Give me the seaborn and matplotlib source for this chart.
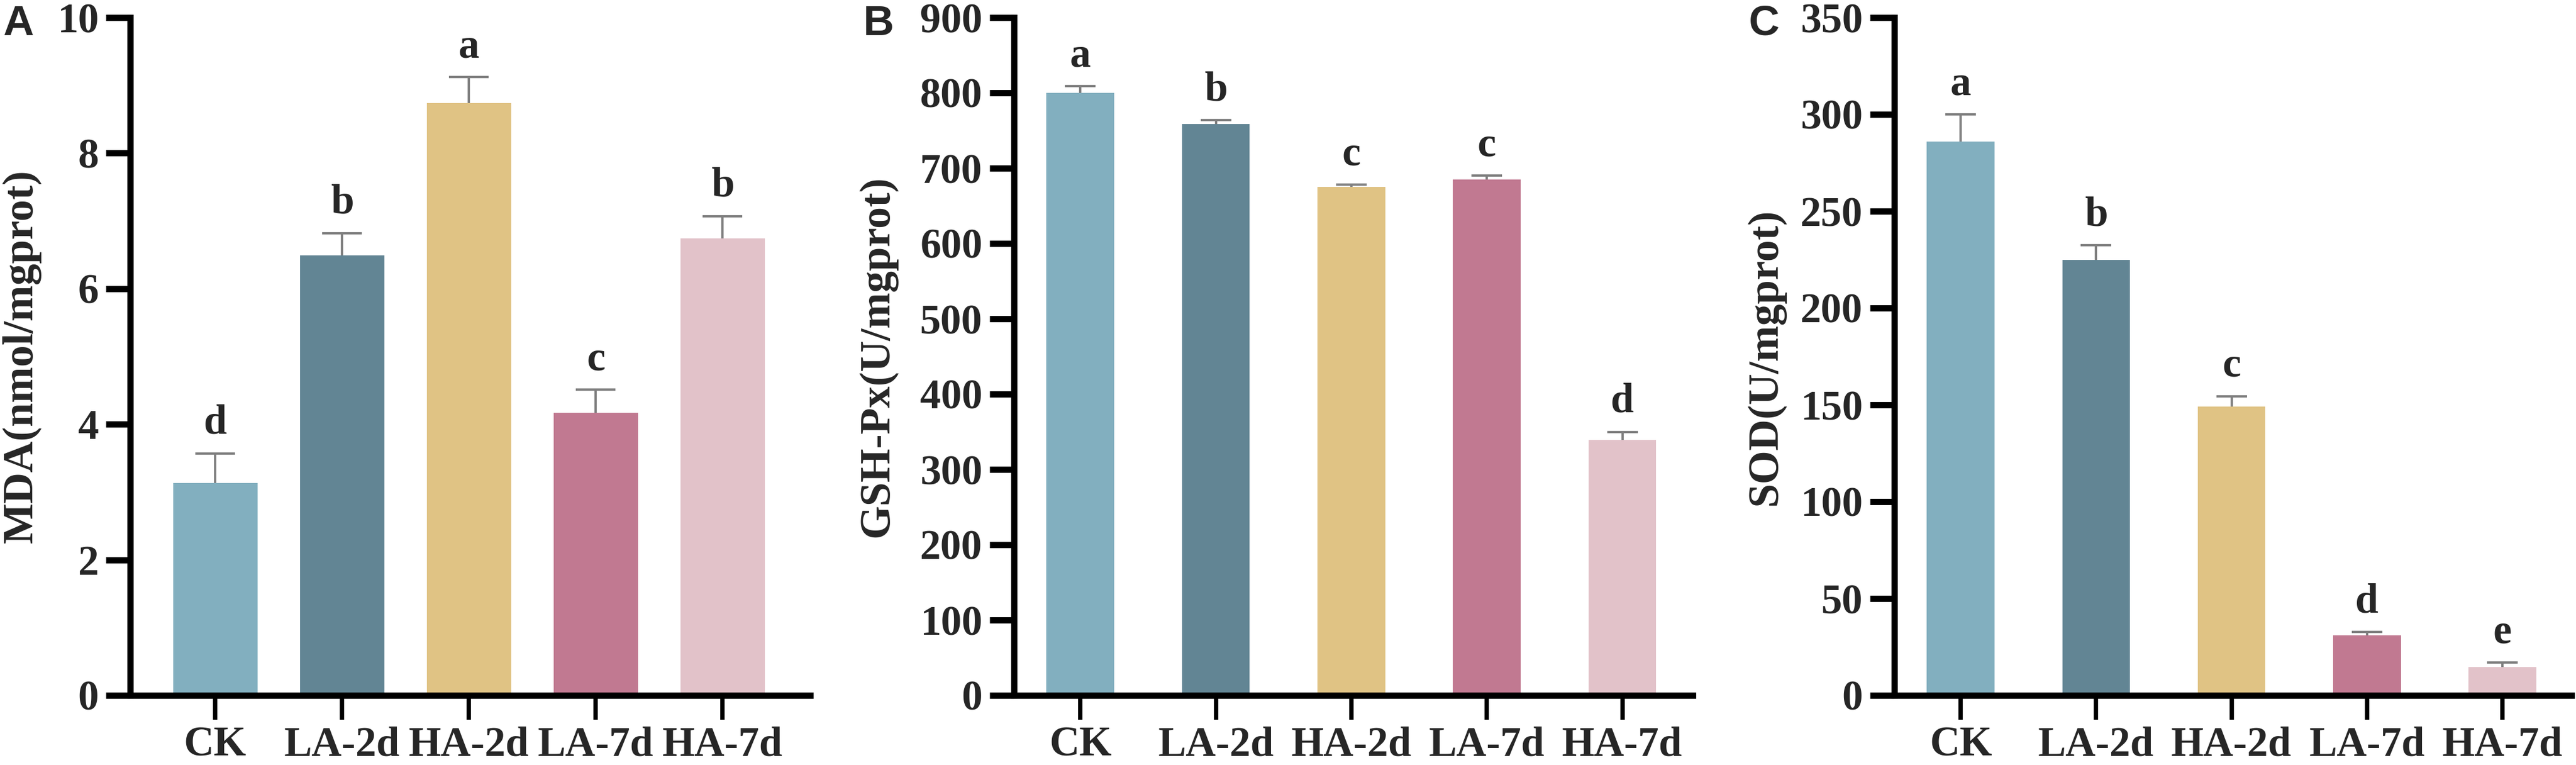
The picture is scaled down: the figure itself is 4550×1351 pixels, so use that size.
import numpy as np
import pandas as pd
import matplotlib
matplotlib.use('Agg')
import matplotlib.pyplot as plt
import seaborn as sns

# groups and colours
groups = ['CK', 'LA-2d', 'HA-2d', 'LA-7d', 'HA-7d']
colors = ['#82AFBF', '#628594', '#E0C384', '#C17991', '#E2C2C9']

# panel A - MDA
mda_mean = [3.13, 6.49, 8.74, 4.17, 6.74]
mda_err = [0.44, 0.33, 0.38, 0.34, 0.33]
mda_sig = ['d', 'b', 'a', 'c', 'b']

# panel B - GSH-Px
gsh_mean = [800, 759, 675, 685, 339]
gsh_err = [9, 5, 3, 5, 11]
gsh_sig = ['a', 'b', 'c', 'c', 'd']

# panel C - SOD
sod_mean = [286, 225, 149, 31, 14.6]
sod_err = [14, 7.5, 5.5, 1.8, 2.3]
sod_sig = ['a', 'b', 'c', 'd', 'e']

sns.set_style('ticks')
plt.rcParams['font.family'] = ['Liberation Serif', 'DejaVu Serif']
plt.rcParams['font.weight'] = 'bold'
plt.rcParams['axes.labelweight'] = 'bold'

W, H = 4550, 1351
fig = plt.figure(figsize=(W / 100, H / 100), dpi=100)

panels = [
    dict(letter='A', mean=mda_mean, err=mda_err, sig=mda_sig, ylabel='MDA(nmol/mgprot)',
         yticks=np.arange(0, 11, 2), ymax=10, left=230, right=1431, xlim=(-0.67, 4.69),
         width=0.665, cap=25, lab_x=38, let_x=5),
    dict(letter='B', mean=gsh_mean, err=gsh_err, sig=gsh_sig, ylabel='GSH-Px(U/mgprot)',
         yticks=np.arange(0, 901, 100), ymax=900, left=1791, right=2990, xlim=(-0.49, 4.52),
         width=0.5, cap=19.5, lab_x=1550, let_x=1525),
    dict(letter='C', mean=sod_mean, err=sod_err, sig=sod_sig, ylabel='SOD(U/mgprot)',
         yticks=np.arange(0, 351, 50), ymax=350, left=3346, right=4542, xlim=(-0.49, 4.51),
         width=0.5, cap=19.5, lab_x=3118, let_x=3089),
]

top_px, zero_px = 31, 1228
fs = 53

for p in panels:
    ax = fig.add_axes([p['left'] / W, 1 - zero_px / H,
                       (p['right'] - p['left']) / W, (zero_px - top_px) / H])
    df = pd.DataFrame({'group': groups, 'value': p['mean']})
    sns.barplot(data=df, x='group', y='value', hue='group', palette=colors,
                saturation=1, width=p['width'], legend=False, linewidth=0, ax=ax)

    x = np.arange(len(groups))
    mean = np.array(p['mean'], dtype=float)
    err = np.array(p['err'], dtype=float)
    eb = ax.errorbar(x, mean, yerr=[np.zeros_like(err), err], fmt='none',
                     ecolor='#808080', elinewidth=3, capsize=p['cap'], capthick=3, zorder=3)
    # hide the lower caps sitting on top of the bars
    for cl in eb[1]:
        if np.allclose(cl.get_ydata(), mean):
            cl.set_visible(False)

    for xi, m, e, s in zip(x, mean, err, p['sig']):
        ax.annotate(s, (xi, m + e), xytext=(0, 25), textcoords='offset points',
                    ha='center', va='baseline', fontsize=fs, fontweight='bold')

    ax.set_xlim(*p['xlim'])
    ax.set_ylim(0, p['ymax'])
    ax.set_yticks(p['yticks'])
    ax.set_xlabel('')
    ax.set_ylabel(p['ylabel'], fontsize=55, fontweight='bold')
    ax.yaxis.set_label_coords((p['lab_x'] - p['left']) / (p['right'] - p['left']), 0.5)
    ax.yaxis.label.set_verticalalignment('center')

    sns.despine(ax=ax)
    for sp in ['left', 'bottom']:
        ax.spines[sp].set_linewidth(8)
        ax.spines[sp].set_color('black')
    ax.tick_params(axis='y', length=31, width=8, pad=9, labelsize=fs, color='black')
    ax.tick_params(axis='x', length=31, width=5.5, pad=8, labelsize=fs, color='black')
    for lab in ax.get_xticklabels() + ax.get_yticklabels():
        lab.set_fontweight('bold')

    fig.text(p['let_x'] / W, 1 - 62 / H, p['letter'], ha='left', va='baseline',
             fontsize=54, fontweight='bold', family=['Liberation Sans', 'DejaVu Sans'])

fig.savefig('out.png', dpi=100, facecolor='white')
